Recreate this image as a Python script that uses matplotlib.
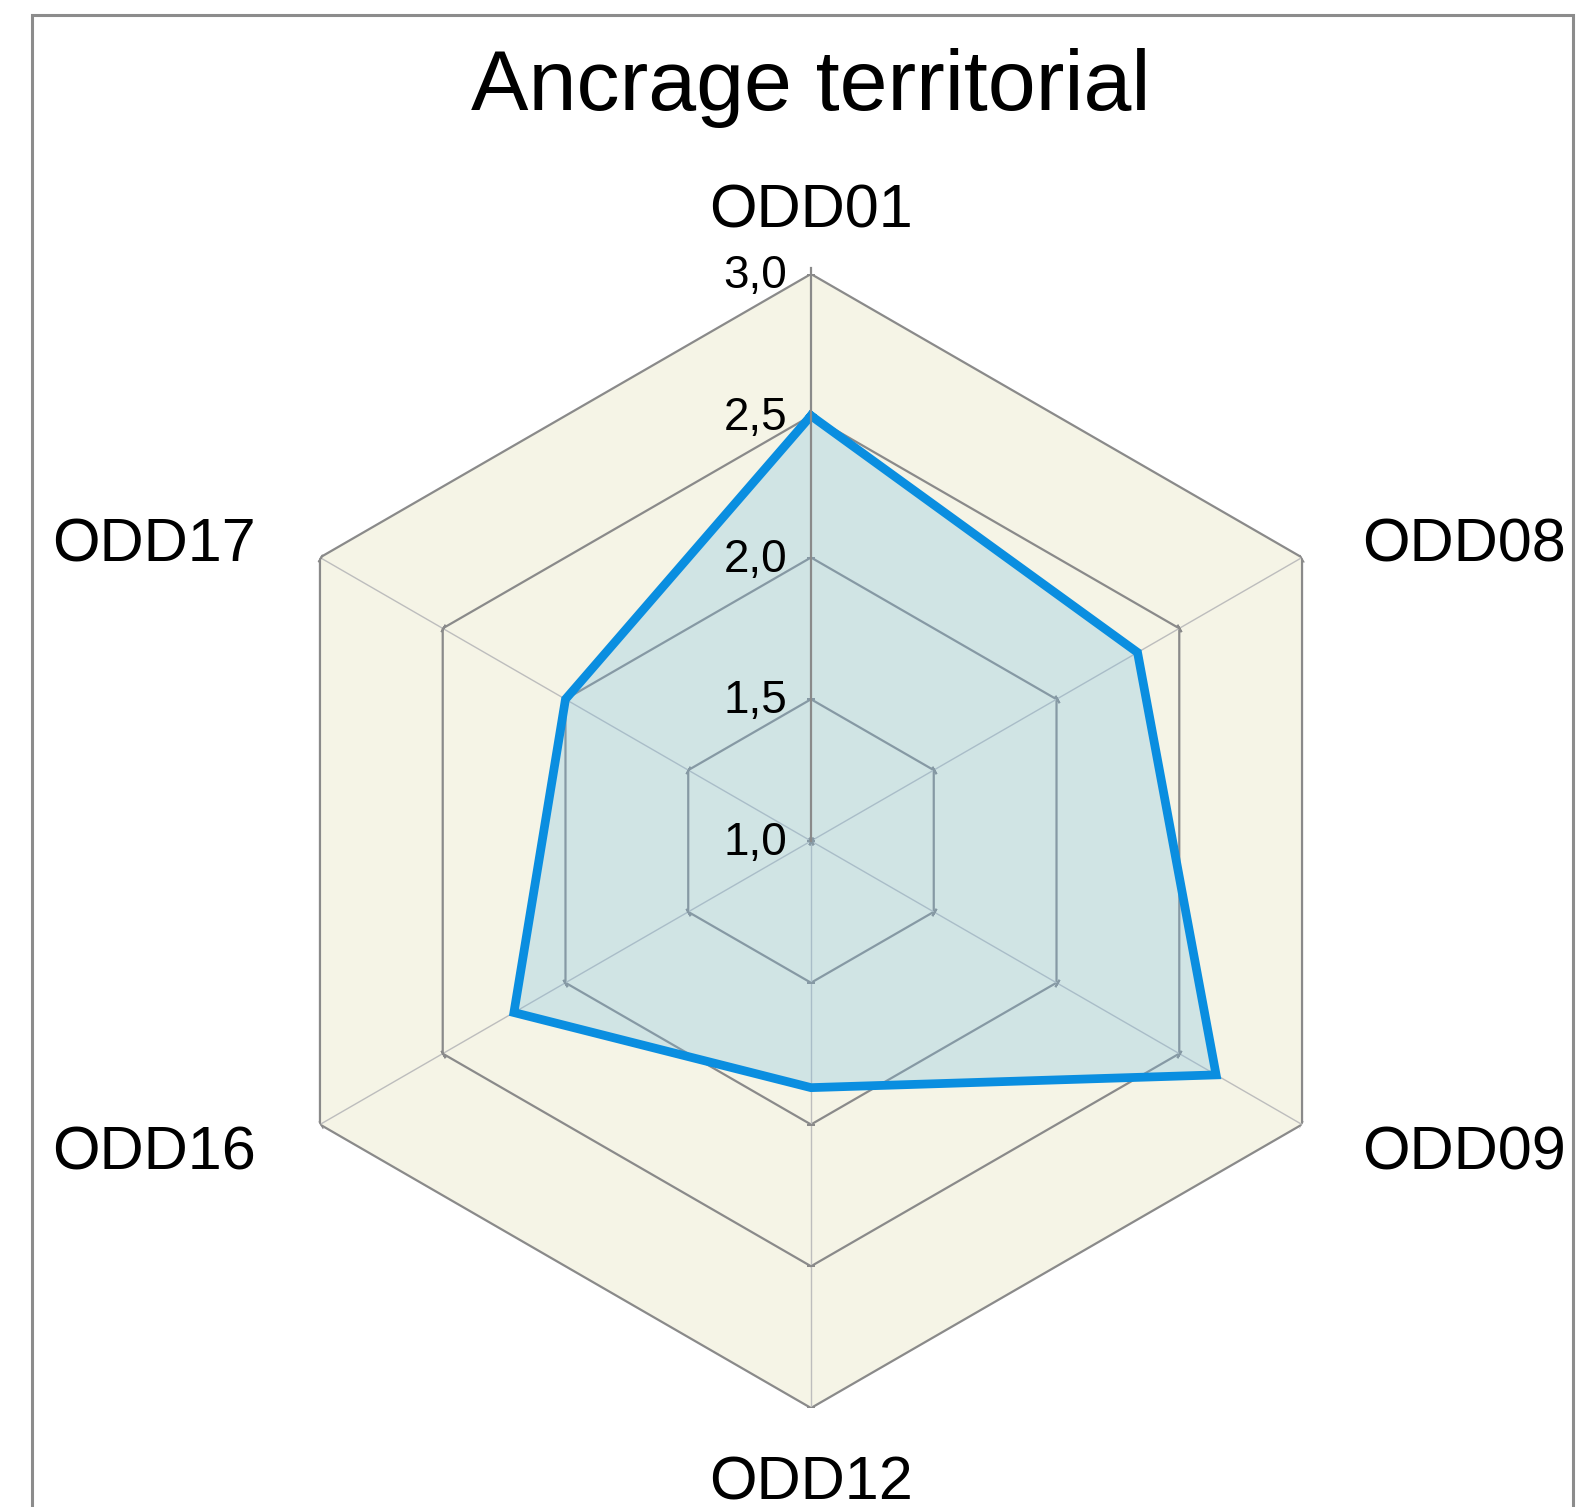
import numpy as np
import matplotlib
matplotlib.use("Agg")
import matplotlib.pyplot as plt
from matplotlib.patches import Rectangle

plt.rcParams['font.family'] = ['Liberation Sans', 'DejaVu Sans']

# data
categories = ['ODD01', 'ODD08', 'ODD09', 'ODD12', 'ODD16', 'ODD17']
values = [2.5, 2.33, 2.65, 1.87, 2.21, 2.0]
rings = [1.5, 2.0, 2.5, 3.0]
tick_vals = [1.0, 1.5, 2.0, 2.5, 3.0]
tick_labels = ['1,0', '1,5', '2,0', '2,5', '3,0']
title = 'Ancrage territorial'

W, H = 1577, 1507
fig = plt.figure(figsize=(W / 100, H / 100), dpi=100)

# grey frame round the chart (bottom edge falls off the picture)
fig.patches.append(Rectangle((32 / W, -0.05), (1573 - 32) / W, 1.05 - 15 / H,
                             transform=fig.transFigure, fill=False,
                             edgecolor='#8c8c8c', linewidth=2.2))

ax = fig.add_axes([244 / W, 99 / H, 1134 / W, 1134 / H], projection='polar')
ax.set_theta_zero_location('N')
ax.set_theta_direction(-1)
ax.set_ylim(1, 3)
ax.grid(False)
ax.set_xticks([])
ax.set_yticks([])
ax.spines['polar'].set_visible(False)
ax.patch.set_visible(False)

n = len(categories)
theta = np.arange(n) * 2 * np.pi / n
closed = np.append(theta, theta[0])

# beige background hexagon
ax.fill(closed, [rings[-1]] * (n + 1), color='#f5f4e6', zorder=0)

# hexagonal rings
for r in rings:
    ax.plot(closed, [r] * (n + 1), color='#8a8a8a', lw=1.6, zorder=1)

# spokes
for t in theta[1:]:
    ax.plot([t, t], [1, rings[-1]], color='#bdbdbd', lw=1.0, zorder=1)

# small tick marks on the spokes
for t in theta:
    ang = 90 - np.degrees(t)
    ax.plot([t] * len(tick_vals), tick_vals, linestyle='none',
            marker=(2, 2, ang), markersize=6, markeredgewidth=1.4,
            color='#8a8a8a', zorder=1)

# data
v = values + values[:1]
ax.fill(closed, v, color='#7dbfe2', alpha=0.3, zorder=2)
ax.plot(closed, v, color='#0a8ee0', lw=6.3, zorder=3, solid_joinstyle='miter')

# value axis on top
ax.plot([0, 0], [1, 3.02], color='#8a8a8a', lw=1.6, zorder=4, clip_on=False)
for tv, tl in zip(tick_vals, tick_labels):
    ax.annotate(tl, xy=(0, tv), xytext=(-24, -2), textcoords='offset pixels',
                ha='right', va='center', fontsize=33, zorder=5,
                annotation_clip=False)

# category labels: offset (pixels) from the outer vertex, baseline anchored
label_off = {
    'ODD01': (0, 47, 'center'),
    'ODD08': (60, -4, 'left'),
    'ODD09': (60, -45, 'left'),
    'ODD12': (0, -92, 'center'),
    'ODD16': (-64, -45, 'right'),
    'ODD17': (-64, -4, 'right'),
}
for t, c in zip(theta, categories):
    dx, dy, ha = label_off[c]
    ax.annotate(c, xy=(t, rings[-1]), xytext=(dx, dy), textcoords='offset pixels',
                ha=ha, va='baseline', fontsize=44, annotation_clip=False)

fig.text(811 / W, 1 - 110 / H, title, ha='center', va='baseline', fontsize=62)

fig.savefig('out.png', dpi=100)
